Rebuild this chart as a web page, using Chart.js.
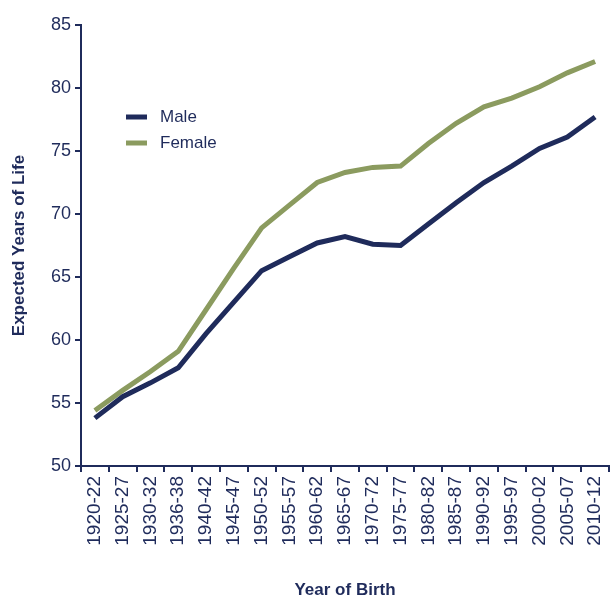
<!DOCTYPE html>
<html>
<head>
<meta charset="utf-8">
<title>Expected Years of Life by Year of Birth</title>
<script src="https://cdn.jsdelivr.net/npm/chart.js@4.4.1/dist/chart.umd.min.js"></script>
<style>
  html, body { margin: 0; padding: 0; background: #fff; }
  #wrap { width: 610px; height: 601px; }
</style>
</head>
<body>
<div id="wrap"><canvas id="chart" width="610" height="601"></canvas></div>
<script>
// data
const periods = ["1920-22","1925-27","1930-32","1936-38","1940-42","1945-47","1950-52","1955-57","1960-62","1965-67","1970-72","1975-77","1980-82","1985-87","1990-92","1995-97","2000-02","2005-07","2010-12"];
const maleLife = [53.8, 55.5, 56.6, 57.8, 60.5, 63.0, 65.5, 66.6, 67.7, 68.2, 67.6, 67.5, 69.2, 70.9, 72.5, 73.8, 75.2, 76.1, 77.7];
const femaleLife = [54.4, 56.0, 57.5, 59.1, 62.4, 65.7, 68.9, 70.7, 72.5, 73.3, 73.7, 73.8, 75.6, 77.2, 78.5, 79.2, 80.1, 81.2, 82.1];
const yMin = 50, yMax = 85, yStep = 5;

const navy = "#1f2b5b";
const olive = "#8b9b5f";
const fontFamily = "'Liberation Sans', Arial, sans-serif";

Chart.defaults.font.family = fontFamily;
Chart.defaults.color = navy;

// legend drawn inside the plot, like the original
const insideLegend = {
  id: "insideLegend",
  afterDraw(chart, args, opts) {
    const ctx = chart.ctx;
    chart.data.datasets.forEach((ds, i) => {
      const y = opts.top + i * opts.rowHeight;
      ctx.save();
      ctx.strokeStyle = ds.borderColor;
      ctx.lineWidth = opts.lineWidth;
      ctx.beginPath();
      ctx.moveTo(opts.left, y);
      ctx.lineTo(opts.left + opts.sampleWidth, y);
      ctx.stroke();
      ctx.fillStyle = navy;
      ctx.font = opts.fontSize + "px " + fontFamily;
      ctx.textBaseline = "middle";
      ctx.fillText(ds.label, opts.left + opts.sampleWidth + opts.gap, y);
      ctx.restore();
    });
  }
};

// keep the plot box fixed: no extra padding for overflowing tick labels
function noLabelPadding(scale) {
  scale.paddingLeft = 0;
  scale.paddingRight = 0;
  scale.paddingTop = 0;
  scale.paddingBottom = 0;
}

const ctx = document.getElementById("chart").getContext("2d");
new Chart(ctx, {
  type: "line",
  data: {
    labels: periods,
    datasets: [
      { label: "Male", data: maleLife, borderColor: navy, backgroundColor: navy, borderWidth: 5, pointRadius: 0, tension: 0 },
      { label: "Female", data: femaleLife, borderColor: olive, backgroundColor: olive, borderWidth: 5, pointRadius: 0, tension: 0 }
    ]
  },
  options: {
    responsive: false,
    animation: false,
    layout: { padding: { top: 25, right: 1, left: 0, bottom: 0 } },
    plugins: {
      legend: { display: false },
      tooltip: { enabled: false },
      insideLegend: { left: 126, top: 117, rowHeight: 26, sampleWidth: 21, gap: 13, lineWidth: 5, fontSize: 17 }
    },
    scales: {
      x: {
        offset: true,
        afterFit(scale) { scale.height = 135; noLabelPadding(scale); },
        grid: { display: true, drawOnChartArea: false, offset: true, tickLength: 6, color: navy, lineWidth: 2 },
        border: { display: true, color: navy, width: 2 },
        ticks: { minRotation: 90, maxRotation: 90, autoSkip: false, padding: 4, color: navy, font: { size: 19 } },
        title: { display: true, text: "Year of Birth", color: navy, font: { size: 17, weight: "bold" }, padding: { top: 2, bottom: 0 } }
      },
      y: {
        min: yMin,
        max: yMax,
        afterFit(scale) { scale.width = 81; noLabelPadding(scale); },
        grid: { display: true, drawOnChartArea: false, tickLength: 6, color: navy, lineWidth: 2 },
        border: { display: true, color: navy, width: 2 },
        ticks: { stepSize: yStep, padding: 4, color: navy, font: { size: 18 } },
        title: { display: true, text: "Expected Years of Life", color: navy, font: { size: 17, weight: "bold" }, padding: { top: 9, bottom: 0 } }
      }
    }
  },
  plugins: [insideLegend]
});
</script>
</body>
</html>
